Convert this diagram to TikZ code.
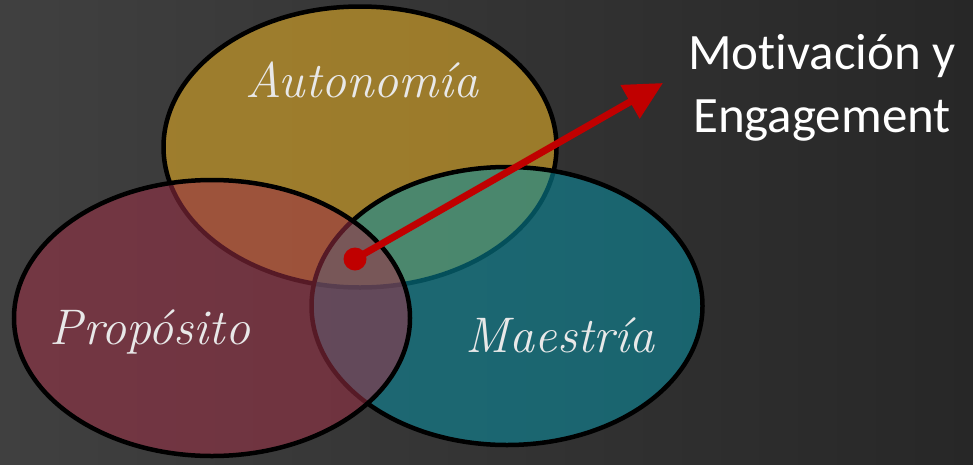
\documentclass[tikz,border=0pt]{standalone}
\usepackage{fontspec}
\setmainfont[Ligatures=NoCommon]{Carlito}
\newfontfamily\handfont{Latin Modern Roman}
\usetikzlibrary{shapes.geometric,arrows.meta}
\definecolor{bgLeft}{HTML}{404040}
\definecolor{bgRight}{HTML}{272727}
\definecolor{autFill}{HTML}{C89A28}
\definecolor{proFill}{HTML}{9E3147}
\definecolor{maeFill}{HTML}{0991A4}
\definecolor{arrowRed}{HTML}{C00000}
\definecolor{lblGray}{HTML}{E8E8E8}
\begin{document}
\begin{tikzpicture}[x=1pt,y=-1pt,>={Triangle[length=38pt,width=37pt]},
    set/.style={ellipse,draw=black,line width=4.5pt,inner sep=0pt},
    lbl/.style={text=lblGray,font=\handfont\itshape\fontsize{50}{60}\selectfont},
    arrowline/.style={->,draw=arrowRed,fill=arrowRed,line width=7pt}]
    \fill[left color=bgLeft,right color=bgRight] (0,0) rectangle (973,464);
    \useasboundingbox (0,0) rectangle (973,464);
    \coordinate (tip) at (663,83);
    % Autonomia below, then Maestria, then Proposito on top
    \node[set,fill=autFill,fill opacity=0.7,minimum width=393pt,minimum height=281pt] (aut) at (360,147) {};
    \node[set,fill=maeFill,fill opacity=0.55,minimum width=391pt,minimum height=278pt] (mae) at (507,306) {};
    \node[set,fill=proFill,fill opacity=0.55,minimum width=396pt,minimum height=276pt] (pro) at (212,318) {};
    \node[lbl] (autLbl) at (362,80) {Autonomía};
    \node[lbl] (proLbl) at (150,332) {Propósito};
    \node[lbl] (maeLbl) at (560,335) {Maestría};
    \node[circle,fill=arrowRed,minimum size=23pt,inner sep=0pt] (dot) at (355,259) {};
    \draw[arrowline] (dot.center)--(tip);
    \node[text=white,align=center,font=\fontsize{51}{63}\selectfont] (title) at (822,88) {Motivación y\\Engagement};
\end{tikzpicture}
\end{document}
